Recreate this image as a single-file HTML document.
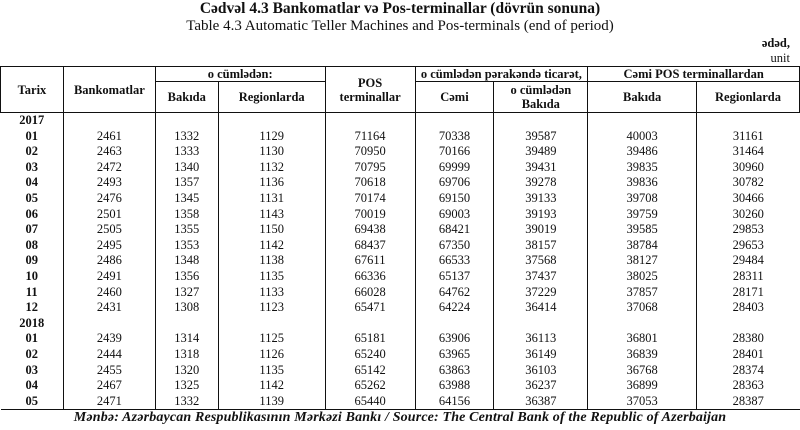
<!DOCTYPE html>
<html><head><meta charset="utf-8"><style>
body{margin:0;width:800px;height:430px;background:#fff;font-family:"Liberation Serif",serif;color:#111;position:relative;overflow:hidden}
.t1{position:absolute;top:0;left:0;width:800px;text-align:center;font-weight:bold;font-size:15.5px}
.t2{position:absolute;top:18px;left:0;width:800px;text-align:center;font-size:15px}
.u1{position:absolute;top:36px;right:10px;font-weight:bold;font-size:12.5px}
.u2{position:absolute;top:51px;right:10px;font-size:12.5px}
table{position:absolute;top:66px;left:0;width:800px;border-collapse:collapse;font-size:12.5px}
th{font-weight:bold;border:1.5px solid #111;text-align:center;padding:0;line-height:14px}
td{text-align:center;padding:0;height:15.6px;line-height:15.6px;border-left:1.5px solid #111}
td:first-child{border-left:none;font-weight:bold}
tbody tr:last-child td{border-bottom:1.5px solid #111}
.f{position:absolute;top:410px;left:0;width:800px;text-align:center;font-weight:bold;font-style:italic;font-size:14px;letter-spacing:0.15px}
</style></head><body>
<div class="t1">Cədvəl 4.3 Bankomatlar və Pos-terminallar (dövrün sonuna)</div>
<div class="t2">Table 4.3 Automatic Teller Machines and Pos-terminals (end of period)</div>
<div class="u1">ədəd,</div><div class="u2">unit</div>
<table>
<colgroup><col style="width:63px"><col style="width:92px"><col style="width:63px"><col style="width:107px"><col style="width:90px"><col style="width:79px"><col style="width:94px"><col style="width:109px"><col style="width:103px"></colgroup>
<thead>
<tr style="height:15px"><th rowspan="2" style="border-left:1.5px solid #111">Tarix</th><th rowspan="2">Bankomatlar</th><th colspan="2">o cümlədən:</th><th rowspan="2">POS<br>terminallar</th><th colspan="2">o cümlədən pərakəndə ticarət,</th><th colspan="2">Cəmi POS terminallardan</th></tr>
<tr style="height:31px"><th>Bakıda</th><th>Regionlarda</th><th>Cəmi</th><th>o cümlədən<br>Bakıda</th><th>Bakıda</th><th>Regionlarda</th></tr>
</thead>
<tbody>
<tr><td>2017</td><td></td><td></td><td></td><td></td><td></td><td></td><td></td><td></td></tr>
<tr><td>01</td><td>2461</td><td>1332</td><td>1129</td><td>71164</td><td>70338</td><td>39587</td><td>40003</td><td>31161</td></tr>
<tr><td>02</td><td>2463</td><td>1333</td><td>1130</td><td>70950</td><td>70166</td><td>39489</td><td>39486</td><td>31464</td></tr>
<tr><td>03</td><td>2472</td><td>1340</td><td>1132</td><td>70795</td><td>69999</td><td>39431</td><td>39835</td><td>30960</td></tr>
<tr><td>04</td><td>2493</td><td>1357</td><td>1136</td><td>70618</td><td>69706</td><td>39278</td><td>39836</td><td>30782</td></tr>
<tr><td>05</td><td>2476</td><td>1345</td><td>1131</td><td>70174</td><td>69150</td><td>39133</td><td>39708</td><td>30466</td></tr>
<tr><td>06</td><td>2501</td><td>1358</td><td>1143</td><td>70019</td><td>69003</td><td>39193</td><td>39759</td><td>30260</td></tr>
<tr><td>07</td><td>2505</td><td>1355</td><td>1150</td><td>69438</td><td>68421</td><td>39019</td><td>39585</td><td>29853</td></tr>
<tr><td>08</td><td>2495</td><td>1353</td><td>1142</td><td>68437</td><td>67350</td><td>38157</td><td>38784</td><td>29653</td></tr>
<tr><td>09</td><td>2486</td><td>1348</td><td>1138</td><td>67611</td><td>66533</td><td>37568</td><td>38127</td><td>29484</td></tr>
<tr><td>10</td><td>2491</td><td>1356</td><td>1135</td><td>66336</td><td>65137</td><td>37437</td><td>38025</td><td>28311</td></tr>
<tr><td>11</td><td>2460</td><td>1327</td><td>1133</td><td>66028</td><td>64762</td><td>37229</td><td>37857</td><td>28171</td></tr>
<tr><td>12</td><td>2431</td><td>1308</td><td>1123</td><td>65471</td><td>64224</td><td>36414</td><td>37068</td><td>28403</td></tr>
<tr><td>2018</td><td></td><td></td><td></td><td></td><td></td><td></td><td></td><td></td></tr>
<tr><td>01</td><td>2439</td><td>1314</td><td>1125</td><td>65181</td><td>63906</td><td>36113</td><td>36801</td><td>28380</td></tr>
<tr><td>02</td><td>2444</td><td>1318</td><td>1126</td><td>65240</td><td>63965</td><td>36149</td><td>36839</td><td>28401</td></tr>
<tr><td>03</td><td>2455</td><td>1320</td><td>1135</td><td>65142</td><td>63863</td><td>36103</td><td>36768</td><td>28374</td></tr>
<tr><td>04</td><td>2467</td><td>1325</td><td>1142</td><td>65262</td><td>63988</td><td>36237</td><td>36899</td><td>28363</td></tr>
<tr><td>05</td><td>2471</td><td>1332</td><td>1139</td><td>65440</td><td>64156</td><td>36387</td><td>37053</td><td>28387</td></tr>
</tbody></table>
<div class="f">Mənbə: Azərbaycan Respublikasının Mərkəzi Bankı / Source: The Central Bank of the Republic of Azerbaijan</div>
</body></html>
